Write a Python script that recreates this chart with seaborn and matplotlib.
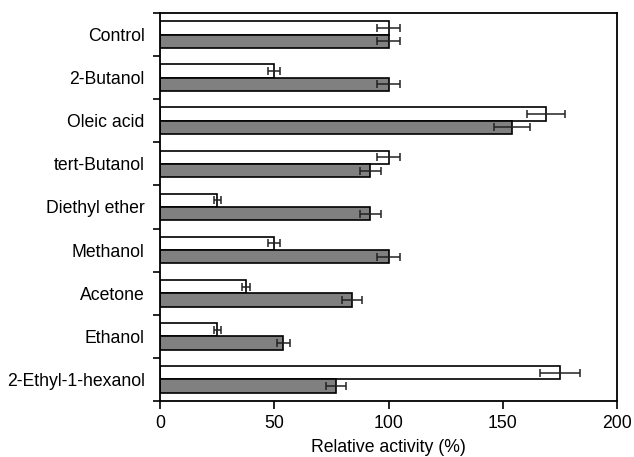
import matplotlib
matplotlib.use("Agg")
import matplotlib.pyplot as plt
import seaborn as sns
import pandas as pd
import numpy as np

solvents = ["Control", "2-Butanol", "Oleic acid", "tert-Butanol", "Diethyl ether",
            "Methanol", "Acetone", "Ethanol", "2-Ethyl-1-hexanol"]
series_names = ["Series 1", "Series 2"]
white_vals = [100, 50, 169, 100, 25, 50, 37.5, 25, 175]
white_err = [5, 2.7, 8.3, 5, 1.5, 2.7, 1.8, 1.5, 8.8]
gray_vals = [100, 100, 154, 92, 92, 100, 84, 54, 77]
gray_err = [5, 5, 7.8, 4.6, 4.6, 5, 4.4, 2.8, 4.2]
xticks = [0, 50, 100, 150, 200]

df = pd.DataFrame({
    "solvent": solvents * 2,
    "activity": white_vals + gray_vals,
    "series": [series_names[0]] * len(solvents) + [series_names[1]] * len(solvents),
})
errs = {series_names[0]: white_err, series_names[1]: gray_err}

sns.set_style("ticks")
plt.rcParams["font.family"] = ["Liberation Sans", "DejaVu Sans"]
plt.rcParams["text.color"] = "black"
plt.rcParams["axes.labelcolor"] = "black"

fs = 12.7
fig = plt.figure(figsize=(6.34, 4.57), dpi=100)
ax = fig.add_axes([0.2524, 0.1225, 0.9732 - 0.2524, 0.9716 - 0.1225])

sns.barplot(data=df, y="solvent", x="activity", hue="series", orient="h",
            palette=["white", "#808080"], edgecolor="black", linewidth=1.2,
            width=0.62, gap=0, errorbar=None, legend=False, ax=ax, order=solvents,
            hue_order=series_names, saturation=1)

for cont, name in zip(ax.containers, series_names):
    ys = [b.get_y() + b.get_height() / 2 for b in cont]
    xs = [b.get_width() for b in cont]
    ax.errorbar(xs, ys, xerr=errs[name], fmt="none", ecolor="#222222",
                elinewidth=1.1, capsize=2.8, capthick=1.1, zorder=5)

ax.set_xlim(0, 200)
ax.set_xticks(xticks)
ax.set_xticklabels([str(t) for t in xticks])
ax.set_ylim(len(solvents) - 0.5, -0.5)
ax.set_yticks(range(len(solvents)))
ax.set_yticklabels(solvents)
ax.set_yticks(np.arange(-0.5, len(solvents), 1.0), minor=True)
ax.tick_params(axis="y", which="major", length=0, pad=11, labelsize=fs, colors="black")
ax.tick_params(axis="y", which="minor", length=5, width=1.2, direction="out", color="black")
ax.tick_params(axis="x", which="major", length=6, width=1.2, direction="out",
               labelsize=fs, pad=4, colors="black")
ax.set_ylabel("")
ax.set_xlabel("Relative activity (%)", fontsize=fs, labelpad=5, color="black")
for s in ax.spines.values():
    s.set_visible(True)
    s.set_linewidth(1.3)
    s.set_color("black")

fig.savefig("out.png", dpi=100)
